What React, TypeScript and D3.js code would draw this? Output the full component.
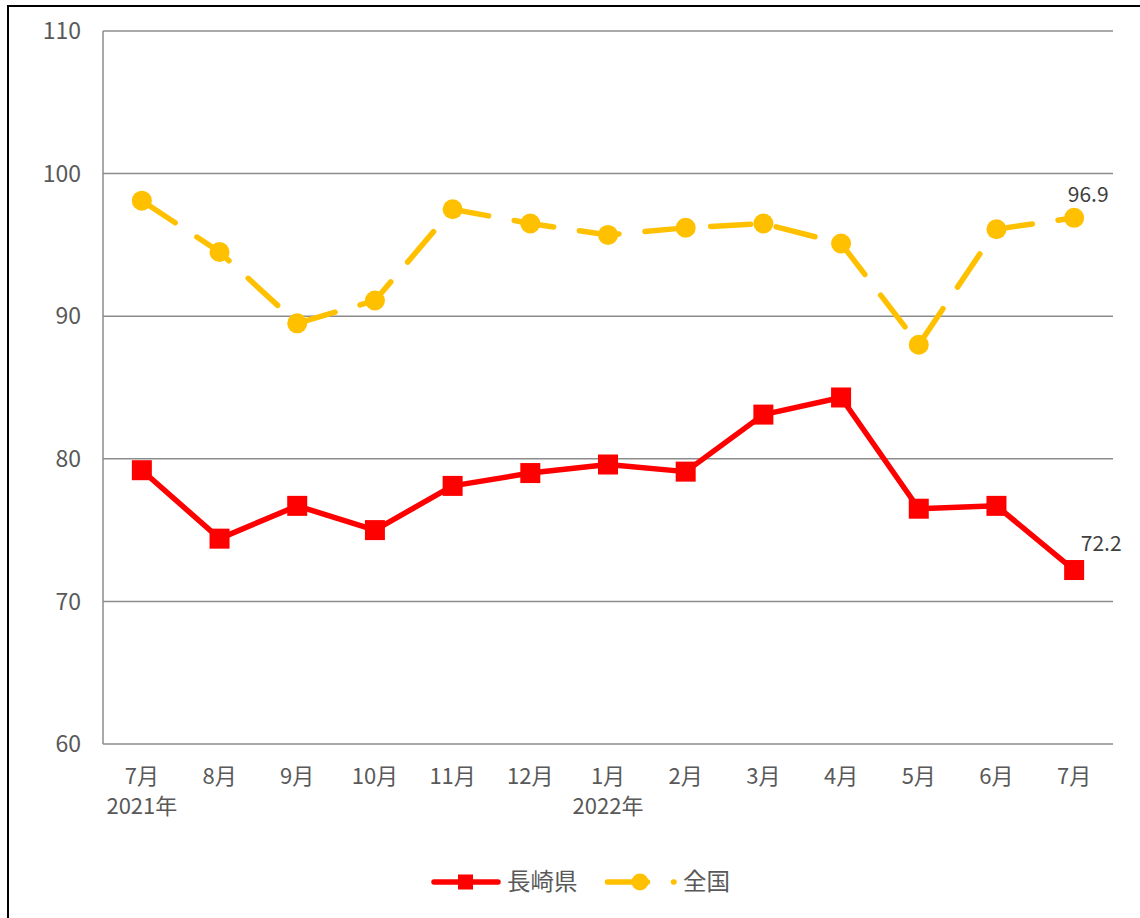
import React, { useEffect, useRef } from "react";
import * as d3 from "d3";

// 月別指数（2021年7月〜2022年7月）
const months = ["7月", "8月", "9月", "10月", "11月", "12月", "1月", "2月", "3月", "4月", "5月", "6月", "7月"];
const yearLabels = ["2021年", "", "", "", "", "", "2022年", "", "", "", "", "", ""];
const nagasaki = [79.2, 74.4, 76.7, 75.0, 78.1, 79.0, 79.6, 79.1, 83.1, 84.3, 76.5, 76.7, 72.2];
const zenkoku = [98.1, 94.5, 89.5, 91.1, 97.5, 96.5, 95.7, 96.2, 96.5, 95.1, 88.0, 96.1, 96.9];
const yTicks = [60, 70, 80, 90, 100, 110];

const FONT = "'Noto Sans CJK JP', 'Noto Sans', sans-serif";
const TEXT = "#595959";
const RED = "#ff0000";
const YELLOW = "#ffc000";

const App = () => {
  const svgRef = useRef<SVGSVGElement | null>(null);

  useEffect(() => {
    const width = 1140;
    const height = 918;
    const left = 103;
    const right = 1113;
    const top = 31;
    const bottom = 744;

    const svg = d3.select(svgRef.current);
    svg.selectAll("*").remove();

    // outer frame
    svg
      .append("rect")
      .attr("x", 8)
      .attr("y", 6)
      .attr("width", width)
      .attr("height", height)
      .attr("fill", "white")
      .attr("stroke", "#000")
      .attr("stroke-width", 2);

    const x = d3
      .scaleBand<number>()
      .domain(d3.range(months.length))
      .range([left, right]);
    const cx = (i: number) => x(i)! + x.bandwidth() / 2;

    const y = d3.scaleLinear().domain([60, 110]).range([bottom, top]);

    // gridlines
    svg
      .append("g")
      .selectAll("line")
      .data(yTicks)
      .join("line")
      .attr("x1", left)
      .attr("x2", right)
      .attr("y1", (d) => y(d))
      .attr("y2", (d) => y(d))
      .attr("stroke", "#8c8c8c")
      .attr("stroke-width", 1.5);

    svg
      .append("line")
      .attr("x1", left)
      .attr("x2", left)
      .attr("y1", top)
      .attr("y2", bottom)
      .attr("stroke", "#8c8c8c")
      .attr("stroke-width", 1.5);

    // y labels
    svg
      .append("g")
      .selectAll("text")
      .data(yTicks)
      .join("text")
      .attr("x", 81)
      .attr("y", (d) => y(d))
      .attr("dy", "0.36em")
      .attr("text-anchor", "end")
      .attr("font-family", FONT)
      .attr("font-size", 23)
      .attr("fill", TEXT)
      .text((d) => d);

    // x labels
    const xl = svg.append("g").attr("font-family", FONT).attr("font-size", 22).attr("fill", TEXT).attr("text-anchor", "middle");
    xl.selectAll("text.m")
      .data(months)
      .join("text")
      .attr("class", "m")
      .attr("x", (_, i) => cx(i))
      .attr("y", 784)
      .text((d) => d);
    xl.selectAll("text.yr")
      .data(yearLabels)
      .join("text")
      .attr("class", "yr")
      .attr("x", (_, i) => cx(i))
      .attr("y", 814)
      .text((d) => d);

    const line = d3
      .line<number>()
      .x((_, i) => cx(i))
      .y((d) => y(d));

    // 全国 (dashed, circles)
    svg
      .append("path")
      .attr("d", line(zenkoku))
      .attr("fill", "none")
      .attr("stroke", YELLOW)
      .attr("stroke-width", 5.5)
      .attr("stroke-linecap", "round")
      .attr("stroke-dasharray", "40 26");
    svg
      .append("g")
      .selectAll("circle")
      .data(zenkoku)
      .join("circle")
      .attr("cx", (_, i) => cx(i))
      .attr("cy", (d) => y(d))
      .attr("r", 10)
      .attr("fill", YELLOW);

    // 長崎県 (solid, squares)
    svg
      .append("path")
      .attr("d", line(nagasaki))
      .attr("fill", "none")
      .attr("stroke", RED)
      .attr("stroke-width", 5.5)
      .attr("stroke-linejoin", "round");
    svg
      .append("g")
      .selectAll("rect")
      .data(nagasaki)
      .join("rect")
      .attr("x", (_, i) => cx(i) - 10)
      .attr("y", (d) => y(d) - 10)
      .attr("width", 20)
      .attr("height", 20)
      .attr("fill", RED);

    // data labels on last point
    const last = months.length - 1;
    const lbl = svg
      .append("g")
      .attr("font-family", FONT)
      .attr("font-size", 21)
      .attr("fill", "#404040")
      .attr("text-anchor", "middle");
    lbl
      .append("text")
      .attr("x", cx(last) + 14)
      .attr("y", y(zenkoku[last]) - 16)
      .text(zenkoku[last].toFixed(1));
    lbl
      .append("text")
      .attr("x", cx(last) + 27)
      .attr("y", y(nagasaki[last]) - 19)
      .text(nagasaki[last].toFixed(1));

    // legend
    const lg = svg.append("g");
    const ly = 882;
    lg.append("line")
      .attr("x1", 434)
      .attr("x2", 498)
      .attr("y1", ly)
      .attr("y2", ly)
      .attr("stroke", RED)
      .attr("stroke-width", 5.5)
      .attr("stroke-linecap", "round");
    lg.append("rect")
      .attr("x", 458)
      .attr("y", ly - 7.5)
      .attr("width", 15)
      .attr("height", 15)
      .attr("fill", RED);
    lg.append("text")
      .attr("x", 507)
      .attr("y", ly)
      .attr("dy", "0.36em")
      .attr("font-family", FONT)
      .attr("font-size", 23.5)
      .attr("fill", TEXT)
      .text("長崎県");
    lg.append("line")
      .attr("x1", 607.5)
      .attr("x2", 674)
      .attr("y1", ly)
      .attr("y2", ly)
      .attr("stroke", YELLOW)
      .attr("stroke-width", 5.5)
      .attr("stroke-linecap", "round")
      .attr("stroke-dasharray", "40 26");
    lg.append("circle")
      .attr("cx", 640)
      .attr("cy", ly)
      .attr("r", 8.5)
      .attr("fill", YELLOW);
    lg.append("text")
      .attr("x", 683)
      .attr("y", ly)
      .attr("dy", "0.36em")
      .attr("font-family", FONT)
      .attr("font-size", 23.5)
      .attr("fill", TEXT)
      .text("全国");
  }, []);

  return (
    <svg
      ref={svgRef}
      width={1140}
      height={918}
      style={{ position: "absolute", left: 0, top: 0, display: "block" }}
    ></svg>
  );
};

export default App;
